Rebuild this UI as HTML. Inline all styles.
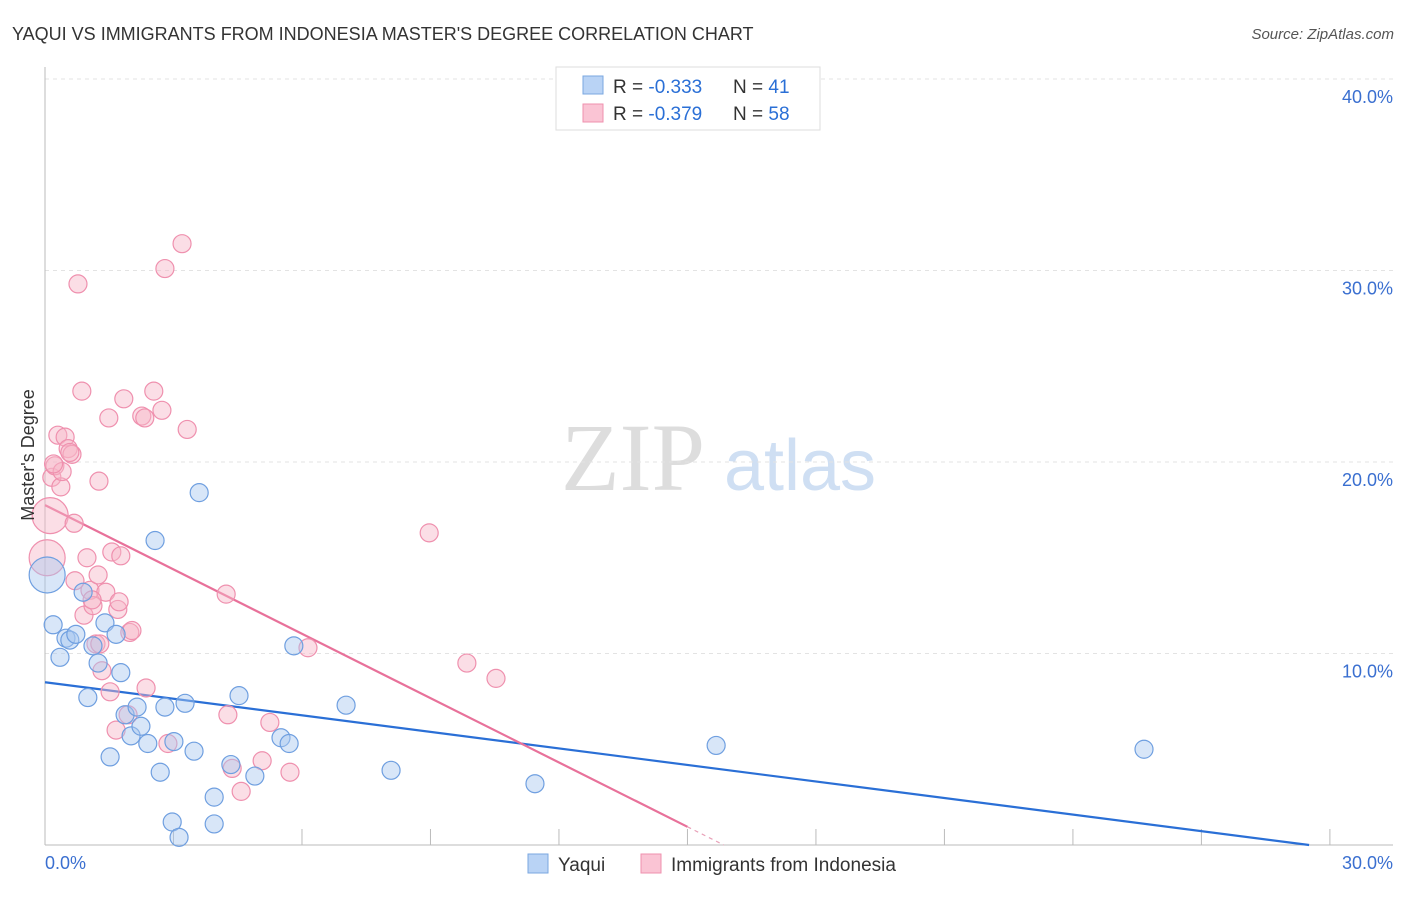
<!DOCTYPE html>
<html><head><meta charset="utf-8"><style>
body{margin:0;background:#fff;font-family:"Liberation Sans",sans-serif}
svg text{font-family:"Liberation Sans",sans-serif}
</style></head><body>
<svg id="chart" width="1406" height="892" xmlns="http://www.w3.org/2000/svg">
<text x="12" y="40" font-size="18" fill="#333">YAQUI VS IMMIGRANTS FROM INDONESIA MASTER'S DEGREE CORRELATION CHART</text>
<text x="1394" y="39" font-size="15" fill="#555" font-style="italic" text-anchor="end">Source: ZipAtlas.com</text>
<g>
<text x="633" y="490" font-size="96" fill="#ddd" text-anchor="middle" font-family="Liberation Serif" style="font-family:'Liberation Serif',serif">ZIP</text>
<text x="800" y="490" font-size="72" fill="#cfdff3" text-anchor="middle">atlas</text>
</g>
<g id="grid"></g><g id="axes"></g><g id="trend"></g><g id="points"></g>
<text transform="translate(34,455) rotate(-90)" font-size="18" fill="#333" text-anchor="middle">Master's Degree</text>
<text x="45" y="869" font-size="18" fill="#3a6fd0">0.0%</text>
<text x="1393" y="869" font-size="18" fill="#3a6fd0" text-anchor="end">30.0%</text>
<g>
<rect x="556" y="67" width="264" height="63" fill="#fff" stroke="#ddd"/>
<rect x="583" y="76" width="20" height="18" fill="#b9d3f5" stroke="#7aa7e0"/>
<rect x="583" y="104" width="20" height="18" fill="#fac4d4" stroke="#ef90ae"/>
<text x="613" y="93" font-size="19" fill="#333">R = <tspan fill="#2a6fd6">-0.333</tspan><tspan x="733">N = </tspan><tspan fill="#2a6fd6">41</tspan></text>
<text x="613" y="120" font-size="19" fill="#333">R = <tspan fill="#2a6fd6">-0.379</tspan><tspan x="733">N = </tspan><tspan fill="#2a6fd6">58</tspan></text>
</g>
<g>
<rect x="528" y="854" width="20" height="19" fill="#b9d3f5" stroke="#7aa7e0"/>
<text x="558" y="871" font-size="19" fill="#333">Yaqui</text>
<rect x="641" y="854" width="20" height="19" fill="#fac4d4" stroke="#ef90ae"/>
<text x="671" y="871" font-size="19" fill="#333">Immigrants from Indonesia</text>
</g>
</svg>
<script>
const yTicks=[10,20,30,40];
const yTickLabels=["10.0%","20.0%","30.0%","40.0%"];
const blueX=[0.05,0.19,0.35,0.49,0.58,0.72,0.89,1.00,1.12,1.24,1.40,1.52,1.66,1.77,1.87,2.01,2.15,2.24,2.40,2.57,2.69,2.80,2.97,3.01,3.13,3.27,3.48,3.60,3.95,3.95,4.34,4.53,4.90,5.51,5.70,5.81,7.03,8.08,11.44,15.67,25.66];
const blueY=[14.1,11.5,9.8,10.8,10.7,11.0,13.2,7.7,10.4,9.5,11.6,4.6,11.0,9.0,6.8,5.7,7.2,6.2,5.3,15.9,3.8,7.2,1.2,5.4,0.4,7.4,4.9,18.4,2.5,1.1,4.2,7.8,3.6,5.6,5.3,10.4,7.3,3.9,3.2,5.2,5.0];
const pinkX=[0.05,0.12,0.16,0.23,0.30,0.37,0.47,0.54,0.63,0.68,0.77,0.86,0.91,0.98,1.05,1.12,1.19,1.24,1.26,1.33,1.42,1.49,1.52,1.56,1.66,1.70,1.73,1.77,1.84,1.94,1.98,2.03,2.26,2.33,2.36,2.54,2.73,2.80,2.87,3.20,3.32,4.23,4.27,4.37,4.58,5.07,5.25,5.72,6.14,8.97,9.85,10.53,0.58,1.28,0.40,1.10,0.20,0.70];
const pinkY=[15.0,17.2,19.2,19.8,21.4,18.7,21.3,20.7,20.4,16.8,29.3,23.7,12.0,15.0,13.3,12.5,10.5,14.1,19.0,9.1,13.2,22.3,8.0,15.3,6.0,12.3,12.7,15.1,23.3,6.8,11.1,11.2,22.4,22.3,8.2,23.7,22.7,30.1,5.3,31.4,21.7,13.1,6.8,4.0,2.8,4.4,6.4,3.8,10.3,16.3,9.5,8.7,20.5,10.5,19.5,12.8,19.9,13.8];
const blueTrend=[8.5,-0.288];
const pinkTrend=[17.75,-1.12];
const NS="http://www.w3.org/2000/svg";
const X=v=>45+v*42.83, Y=v=>845-v*19.15;
function mk(p,t,a){const e=document.createElementNS(NS,t);for(const k in a)e.setAttribute(k,a[k]);p.appendChild(e);return e;}
const grid=document.getElementById('grid'),axes=document.getElementById('axes'),trend=document.getElementById('trend'),pts=document.getElementById('points');
yTicks.forEach((t,i)=>{
 const l=mk(grid,'line',{x1:45,x2:1393,y1:Y(t),y2:Y(t),stroke:'#e3e3e3','stroke-dasharray':'4,4'});
 
 
 const tx=mk(grid,'text',{x:1393,y:Y(t)+24,'font-size':18,fill:'#3a6fd0','text-anchor':'end'});
 tx.textContent=yTickLabels[i];
 
 
});
const ya=mk(axes,'line',{x1:45,x2:45,y1:67,y2:845,stroke:'#bbb'});


const xa=mk(axes,'line',{x1:45,x2:1393,y1:845,y2:845,stroke:'#bbb'});


for(let i=0;i<=10;i++){
 const tk=mk(axes,'line',{x1:X(i*3),x2:X(i*3),y1:829,y2:845,stroke:'#bbb'});
 
 
}
function drawPts(xs,ys,fill,stroke,name){
 xs.forEach((x,i)=>{
  const r=(x<0.15&&ys[i]>13)?18:9;
  const c=mk(pts,'circle',{cx:X(x),cy:Y(ys[i]),r:r,fill:fill,'fill-opacity':0.45,stroke:stroke,'stroke-width':1.2});
  
  
 });
}
drawPts(pinkX,pinkY,'#f7b6c8','#ef90ae','indonesia-point');
drawPts(blueX,blueY,'#a9c8f0','#6f9fe0','yaqui-point');
const b0=blueTrend[0],b1=blueTrend[1],bEnd=-b0/b1;
const bl=mk(trend,'line',{x1:X(0),y1:Y(b0),x2:X(bEnd),y2:Y(0),stroke:'#2a6fd6','stroke-width':2.2});


const p0=pinkTrend[0],p1=pinkTrend[1],pEnd=-p0/p1;
const pl=mk(trend,'line',{x1:X(0),y1:Y(p0),x2:X(15),y2:Y(p0+p1*15),stroke:'#e8719a','stroke-width':2.2});


const pd=mk(trend,'line',{x1:X(15),y1:Y(p0+p1*15),x2:X(pEnd),y2:Y(0),stroke:'#e8a0b8','stroke-width':1.2,'stroke-dasharray':'4,4'});


</script>
</body></html>
